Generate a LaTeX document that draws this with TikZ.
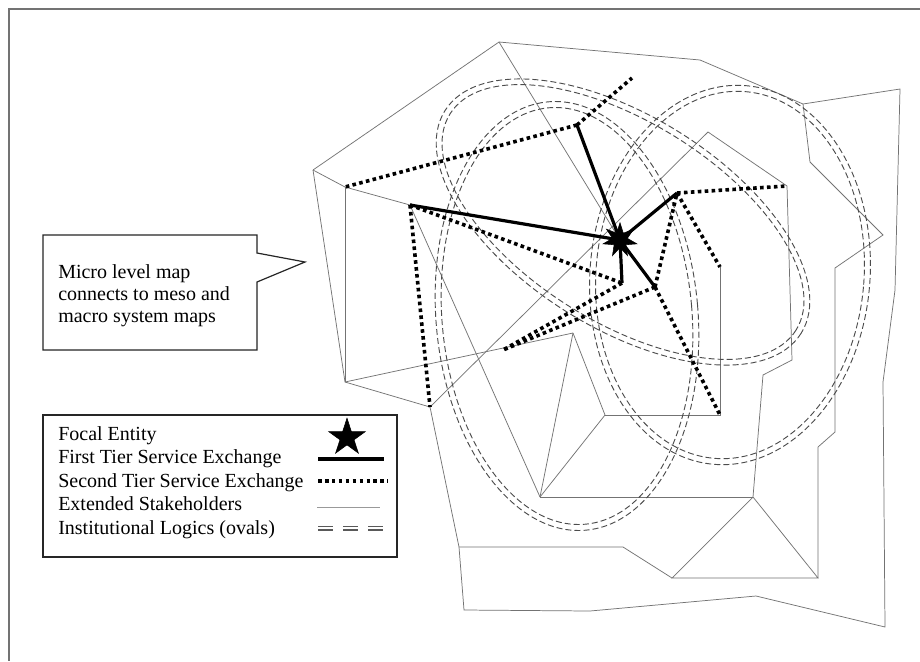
\documentclass[tikz,border=0pt]{standalone}
\usepackage{fontspec}
\setmainfont{Liberation Serif}
\usetikzlibrary{shapes.geometric}
\begin{document}
\begin{tikzpicture}[x=0.75pt,y=-0.75pt,
  stake/.style={draw=black!55, line width=0.55pt},
  firsttier/.style={draw=black, line width=2.4pt},
  secondtier/.style={draw=black, line width=2.7pt, dash pattern=on 2.7pt off 2.5pt},
  logic/.style={draw=black!70, line width=0.7pt, dash pattern=on 4.5pt off 2.3pt},
  frameline/.style={draw=black!55, line width=1.2pt},
  boxline/.style={draw=black!85, line width=0.9pt},
  txt/.style={font=\fontsize{15}{17.5}\selectfont, inner sep=0pt, anchor=base west},
  focal/.style={star, star points=7, star point ratio=2.3, fill=black, draw=black, inner sep=0pt, minimum size=26pt},
  legstar/.style={star, star points=5, star point ratio=2.618, fill=black, draw=black, inner sep=0pt, minimum size=29pt},
]
\useasboundingbox (0,0) rectangle (920,661);
\fill[white] (0,0) rectangle (920,661);
% frame
\coordinate (fTL) at (9,9); \coordinate (fTR) at (920,9); \coordinate (fBL) at (9,661);
\draw[frameline] (fTR) -- (fTL) -- (fBL);

% ---------- coordinates ----------
\coordinate (o1) at (313,170); \coordinate (o2) at (499,42); \coordinate (o3) at (700,60);
\coordinate (o4) at (803,104); \coordinate (o5) at (900,89); \coordinate (o6) at (895,290);
\coordinate (o7) at (883,382); \coordinate (o8) at (885,627); \coordinate (o9) at (756,596);
\coordinate (o10) at (590,611); \coordinate (o11) at (464,610); \coordinate (o12) at (459,547);
\coordinate (s1) at (345,187); \coordinate (p2) at (345,382); \coordinate (p1) at (430,407);
\coordinate (f1) at (410,205); \coordinate (t1) at (577,125); \coordinate (s2) at (632,78);
\coordinate (t2) at (622,283); \coordinate (s4) at (503,350); \coordinate (t3) at (655,287);
\coordinate (s5) at (720,415); \coordinate (t4) at (677,193); \coordinate (m3) at (787,186);
\coordinate (s7) at (720,267);
\coordinate (k1) at (573,333); \coordinate (k2) at (605,415); \coordinate (k3) at (540,497);
\coordinate (r2) at (810,162); \coordinate (r3) at (883,235); \coordinate (r4) at (835,268);
\coordinate (r5) at (835,432); \coordinate (r6) at (818,447); \coordinate (r7) at (818,578);
\coordinate (b2) at (672,578); \coordinate (b3) at (623,547); \coordinate (b5) at (753,497);
\coordinate (m1) at (763,375); \coordinate (m2) at (792,360); \coordinate (m4) at (708,132);
\coordinate (sc) at (620,240);
\coordinate (ea) at (623,222); \coordinate (eb) at (730,275); \coordinate (ec) at (567,316);

% ---------- extended stakeholders ----------
\draw[stake] (o1) -- (o2) -- (o3) -- (o4) -- (o5) -- (o6) -- (o7) -- (o8) -- (o9) -- (o10)
  -- (o11) -- (o12) -- (p1) -- (p2) -- (o1);
\draw[stake] (o1) -- (s1) -- (f1);
\draw[stake] (s1) -- (p2);
\draw[stake] (p2) -- (k1);
\draw[stake] (k1) -- (k3);
\draw[stake] (k1) -- (k2);
\draw[stake] (k3) -- (k2);
\draw[stake] (k2) -- (s5) -- (s7);
\draw[stake] (f1) -- (k3);
\draw[stake] (k3) -- (b5);
\draw[stake] (b5) -- (b2) -- (r7) -- (b5);
\draw[stake] (b2) -- (b3) -- (o12);
\draw[stake] (b5) -- (m1) -- (m2) -- (m3) -- (m4) -- (p1);
\draw[stake] (o4) -- (r2) -- (r3) -- (r4) -- (r5) -- (r6) -- (r7);
\draw[stake] (o2) -- (sc);

% ---------- institutional logics ----------
\draw[logic, rotate around={-32:(ea)}] (ea) ellipse [x radius=210, y radius=106];
\draw[logic, rotate around={-32:(ea)}] (ea) ellipse [x radius=204, y radius=100];
\draw[logic, rotate around={-5:(eb)}] (eb) ellipse [x radius=140, y radius=190];
\draw[logic, rotate around={-5:(eb)}] (eb) ellipse [x radius=134, y radius=184];
\draw[logic, rotate around={5:(ec)}] (ec) ellipse [x radius=131, y radius=215];
\draw[logic, rotate around={5:(ec)}] (ec) ellipse [x radius=125, y radius=209];

% ---------- second tier ----------
\draw[secondtier] (t1) -- (s1);
\draw[secondtier] (t1) -- (s2);
\draw[secondtier] (f1) -- (p1);
\draw[secondtier] (f1) -- (t2);
\draw[secondtier] (t2) -- (s4);
\draw[secondtier] (t3) -- (s4);
\draw[secondtier] (t3) -- (t4);
\draw[secondtier] (t3) -- (s5);
\draw[secondtier] (t4) -- (m3);
\draw[secondtier] (t4) -- (s7);

% ---------- first tier ----------
\draw[firsttier] (sc) -- (t1);
\draw[firsttier] (sc) -- (f1);
\draw[firsttier] (sc) -- (t2);
\draw[firsttier] (sc) -- (t3);
\draw[firsttier] (sc) -- (t4);
\node[focal] (focal) at (sc) {};

% ---------- callout ----------
\coordinate (cA) at (43,235); \coordinate (cB) at (257,235); \coordinate (cC) at (257,253);
\coordinate (cD) at (305,262); \coordinate (cE) at (257,282); \coordinate (cF) at (257,350);
\coordinate (cG) at (43,350);
\fill[black!18, xshift=2.5pt, yshift=-2.5pt] (cA) -- (cB) -- (cC) -- (cD) -- (cE) -- (cF) -- (cG) -- cycle;
\filldraw[fill=white, boxline] (cA) -- (cB) -- (cC) -- (cD) -- (cE) -- (cF) -- (cG) -- cycle;
\node[txt] (call1) at (58,278) {Micro level map};
\node[txt] (call2) at (58,300) {connects to meso and};
\node[txt] (call3) at (58,322) {macro system maps};

% ---------- legend ----------
\coordinate (lA) at (43,415); \coordinate (lB) at (397,557);
\draw[boxline, fill=white] (lA) rectangle (lB);
\node[txt] (leg1) at (58,440) {Focal Entity};
\node[txt] (leg2) at (58,463.5) {First Tier Service Exchange};
\node[txt] (leg3) at (58,487) {Second Tier Service Exchange};
\node[txt] (leg4) at (58,510.5) {Extended Stakeholders};
\node[txt] (leg5) at (58,534) {Institutional Logics (ovals)};
\node[legstar] (lstar) at (347,437.5) {};
\coordinate (l2a) at (318,459); \coordinate (l2b) at (384,459);
\draw[firsttier] (l2a) -- (l2b);
\coordinate (l3a) at (318,481); \coordinate (l3b) at (388,481);
\draw[secondtier] (l3a) -- (l3b);
\coordinate (l4a) at (317,507); \coordinate (l4b) at (380,507);
\draw[draw=black!40, line width=0.5pt] (l4a) -- (l4b);
\coordinate (l5a) at (318,526.5); \coordinate (l5b) at (384,526.5);
\coordinate (l6a) at (318,530); \coordinate (l6b) at (384,530);
\draw[draw=black!65, line width=0.8pt, dash pattern=on 11.25pt off 7.5pt] (l5a) -- (l5b);
\draw[draw=black!65, line width=0.8pt, dash pattern=on 11.25pt off 7.5pt] (l6a) -- (l6b);
\end{tikzpicture}
\end{document}
